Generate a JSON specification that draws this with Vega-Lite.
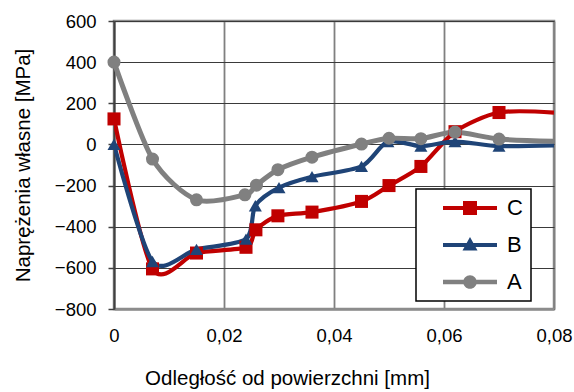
{
  "$schema": "https://vega.github.io/schema/vega-lite/v6.json",
  "width": 440,
  "height": 288,
  "autosize": {"type": "none"},
  "padding": {"left": 114, "top": 21, "right": 20, "bottom": 83},
  "config": {
    "font": "Liberation Sans",
    "view": {"stroke": "#8c8c8c", "strokeWidth": 2.5},
    "axis": {"labelFont": "Liberation Sans", "titleFont": "Liberation Sans", "labelColor": "#000", "titleColor": "#000", "titleFontWeight": "normal", "labelFlush": false}
  },
  "data": {
    "values": [
      {"s": "C", "x": 0, "y": 124},
      {"s": "C", "x": 0.007, "y": -605},
      {"s": "C", "x": 0.015, "y": -528},
      {"s": "C", "x": 0.024, "y": -500},
      {"s": "C", "x": 0.0258, "y": -415},
      {"s": "C", "x": 0.0298, "y": -347},
      {"s": "C", "x": 0.036, "y": -329},
      {"s": "C", "x": 0.045, "y": -277},
      {"s": "C", "x": 0.05, "y": -200},
      {"s": "C", "x": 0.0558, "y": -107},
      {"s": "C", "x": 0.062, "y": 62},
      {"s": "C", "x": 0.07, "y": 155},
      {"s": "C", "x": 0.08, "y": 155},
      {"s": "B", "x": 0, "y": 0},
      {"s": "B", "x": 0.007, "y": -569},
      {"s": "B", "x": 0.015, "y": -510},
      {"s": "B", "x": 0.024, "y": -460},
      {"s": "B", "x": 0.0257, "y": -298},
      {"s": "B", "x": 0.03, "y": -210},
      {"s": "B", "x": 0.036, "y": -157},
      {"s": "B", "x": 0.045, "y": -107},
      {"s": "B", "x": 0.0498, "y": 14},
      {"s": "B", "x": 0.0558, "y": -8},
      {"s": "B", "x": 0.062, "y": 14},
      {"s": "B", "x": 0.07, "y": -8},
      {"s": "B", "x": 0.08, "y": -5},
      {"s": "A", "x": 0, "y": 400},
      {"s": "A", "x": 0.007, "y": -71},
      {"s": "A", "x": 0.015, "y": -269},
      {"s": "A", "x": 0.0238, "y": -245},
      {"s": "A", "x": 0.0259, "y": -198},
      {"s": "A", "x": 0.0298, "y": -123},
      {"s": "A", "x": 0.036, "y": -62},
      {"s": "A", "x": 0.045, "y": 2},
      {"s": "A", "x": 0.05, "y": 30},
      {"s": "A", "x": 0.0558, "y": 28},
      {"s": "A", "x": 0.062, "y": 60},
      {"s": "A", "x": 0.07, "y": 26},
      {"s": "A", "x": 0.08, "y": 15}
    ]
  },
  "encoding": {
    "x": {
      "field": "x", "type": "quantitative",
      "scale": {"domain": [0, 0.08], "nice": false, "zero": false},
      "axis": {
        "values": [0, 0.02, 0.04, 0.06, 0.08],
        "labelExpr": "datum.value == 0 ? '0' : replace(format(datum.value, '.2f'), '.', ',')",
        "labelFontSize": 18.5, "labelPadding": 17, "ticks": false,
        "domainColor": "#8c8c8c", "domainWidth": 2.5,
        "gridColor": "#808080", "gridWidth": 1.8, "gridOpacity": 1,
        "title": "Odległość od powierzchni [mm]", "titleFontSize": 20.5,
        "titleX": 173, "titleY": 69, "titleBaseline": "middle"
      }
    },
    "y": {
      "field": "y", "type": "quantitative",
      "scale": {"domain": [-800, 600], "nice": false},
      "axis": {
        "values": [-800, -600, -400, -200, 0, 200, 400, 600],
        "labelFontSize": 18.5, "labelPadding": 12, "tickSize": 6, "tickColor": "#404040", "tickWidth": 1.5,
        "domainColor": "#404040", "domainWidth": 2,
        "gridColor": "#3a3a3a", "gridWidth": 1.2, "gridOpacity": 1,
        "title": "Naprężenia własne [MPa]", "titleFontSize": 20.5,
        "titleX": -91, "titleY": 144, "titleBaseline": "middle"
      }
    },
    "color": {
      "field": "s", "type": "nominal",
      "scale": {"domain": ["C", "B", "A"], "range": ["#c00000", "#1f4477", "#808080"]},
      "legend": {
        "title": null, "orient": "none", "legendX": 302, "legendY": 168,
        "strokeColor": "#000", "fillColor": "#fff",
        "padding": 8, "labelFontSize": 22, "labelFont": "Liberation Sans", "labelColor": "#000",
        "labelExpr": "datum.label + ' '",
        "symbolSize": 400, "labelOffset": 26, "rowPadding": 15, "symbolOffset": 35,
        "encode": {
          "legend": {"update": {"strokeWidth": {"value": 1.5}}},
          "labels": {"update": {"fontSize": {"value": 22}}},
          "symbols": {
            "update": {
              "shape": {"signal": "datum.value == 'C' ? 'M-2.7,-0.2H2.7V0.2H-2.7Z M-0.7,-0.7H0.7V0.7H-0.7Z' : datum.value == 'B' ? 'M-2.7,-0.2H2.7V0.2H-2.7Z M0,-0.8L0.75,0.55H-0.75Z' : 'M-2.7,-0.22H2.7V0.22H-2.7Z M0.68,0A0.68,0.68 0 1,1 -0.68,0A0.68,0.68 0 1,1 0.68,0Z'"},
              "fill": {"signal": "scale('color', datum.value)"},
              "fillOpacity": {"value": 1},
              "strokeWidth": {"value": 0}
            }
          }
        }
      }
    }
  },
  "layer": [
    {
      "mark": {"type": "line", "interpolate": "cardinal", "tension": 0.2, "clip": true,
        "strokeWidth": {"expr": "datum.s == 'A' ? 5 : 4.2"}}
    },
    {
      "transform": [{"filter": "datum.x < 0.079"}],
      "mark": {
        "type": "point", "filled": true, "opacity": 1, "size": 170,
        "shape": {"expr": "datum.s == 'C' ? 'square' : datum.s == 'B' ? 'triangle-up' : 'circle'"}
      }
    }
  ]
}
